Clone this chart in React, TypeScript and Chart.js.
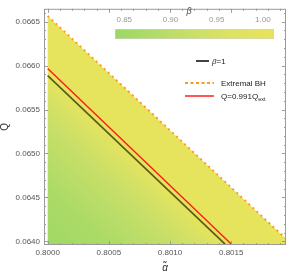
import React, { useEffect, useRef } from 'react';
import { Chart, registerables } from 'chart.js';
Chart.register(...registerables);

const alphaTicks = [0.8, 0.8005, 0.801, 0.8015];
const qTicks = [0.064, 0.0645, 0.065, 0.0655, 0.066, 0.0665];
const cbTicks = [0.85, 0.9, 0.95, 1.0];

const extremalAlpha = [0.8, 0.80194];
const extremalQ = [0.066565, 0.06404];
const beta1Alpha = [0.8, 0.80145];
const beta1Q = [0.065887, 0.06397];
const q991Alpha = [0.8, 0.8015];
const q991Q = [0.065967, 0.06397];

const fieldAlphaRange = [0.8, 0.80194];
const fieldQMin = 0.06397;

// beta values versus vertical distance below the beta=1 line
const betaOffsets = [0, 0.0002, 0.0005, 0.0009, 0.0013, 0.0019];
const betaLevels = [1.0, 0.955, 0.925, 0.895, 0.87, 0.85];

const cmapBeta = [0.84, 0.88, 0.92, 0.96, 1.012];
const cmapColors = ['#9cd864', '#b0db68', '#c7df68', '#dbe262', '#e8e45a'];
const cbRange = [0.84, 1.012];

const FONT = '"Liberation Sans", Arial, sans-serif';

function hexToRgb(h: string) {
  const n = parseInt(h.slice(1), 16);
  return [(n >> 16) & 255, (n >> 8) & 255, n & 255];
}
function betaColor(b: number) {
  if (b <= cmapBeta[0]) return cmapColors[0];
  for (let i = 0; i < cmapBeta.length - 1; i++) {
    if (b <= cmapBeta[i + 1]) {
      const t = (b - cmapBeta[i]) / (cmapBeta[i + 1] - cmapBeta[i]);
      const a = hexToRgb(cmapColors[i]);
      const c = hexToRgb(cmapColors[i + 1]);
      const r = a.map((v, k) => Math.round(v + (c[k] - v) * t));
      return `rgb(${r[0]},${r[1]},${r[2]})`;
    }
  }
  return cmapColors[cmapColors.length - 1];
}
function lineAt(xs: number[], ys: number[], a: number) {
  return ys[0] + ((ys[1] - ys[0]) * (a - xs[0])) / (xs[1] - xs[0]);
}

const fieldPlugin = {
  id: 'field',
  beforeDatasetsDraw(chart: any) {
    const { ctx, chartArea, scales } = chart;
    const x = scales.x, y = scales.y;
    ctx.save();
    ctx.beginPath();
    ctx.rect(chartArea.left, chartArea.top, chartArea.width, chartArea.height);
    ctx.clip();
    const xl = x.getPixelForValue(fieldAlphaRange[0]);
    const xr = x.getPixelForValue(fieldAlphaRange[1]);
    const yb = y.getPixelForValue(fieldQMin);
    ctx.beginPath();
    ctx.moveTo(xl, y.getPixelForValue(lineAt(extremalAlpha, extremalQ, fieldAlphaRange[0])));
    ctx.lineTo(xr, y.getPixelForValue(lineAt(extremalAlpha, extremalQ, fieldAlphaRange[1])));
    ctx.lineTo(xr, yb);
    ctx.lineTo(xl, yb);
    ctx.closePath();
    const p0x = x.getPixelForValue(beta1Alpha[0]);
    const p0y = y.getPixelForValue(beta1Q[0]);
    const p1x = x.getPixelForValue(beta1Alpha[1]);
    const p1y = y.getPixelForValue(beta1Q[1]);
    const dx = p1x - p0x, dy = p1y - p0y;
    const len = Math.hypot(dx, dy);
    const nx = -dy / len, ny = dx / len;
    const maxOff = betaOffsets[betaOffsets.length - 1];
    const vPix = y.getPixelForValue(beta1Q[0] - maxOff) - p0y;
    const perp = (vPix * Math.abs(dx)) / len;
    const g = ctx.createLinearGradient(p0x, p0y, p0x + nx * perp, p0y + ny * perp);
    betaOffsets.forEach((o, i) => g.addColorStop(o / maxOff, betaColor(betaLevels[i])));
    ctx.fillStyle = g;
    ctx.fill();
    ctx.restore();
  },
};

const framePlugin = {
  id: 'frame',
  afterDatasetsDraw(chart: any) {
    const { ctx, chartArea, scales } = chart;
    const x = scales.x, y = scales.y;
    const { left, right, top, bottom } = chartArea;
    ctx.save();
    ctx.strokeStyle = '#9a9a9a';
    ctx.lineWidth = 1;
    ctx.strokeRect(left + 0.5, top + 0.5, right - left - 1, bottom - top - 1);
    const step = 0.0001;
    for (let k = Math.ceil(x.min / step); k * step <= x.max + 1e-12; k++) {
      const v = k * step;
      const major = alphaTicks.some((t) => Math.abs(t - v) < 1e-9);
      const L = major ? 4 : 2;
      const px = Math.round(x.getPixelForValue(v)) + 0.5;
      ctx.beginPath();
      ctx.moveTo(px, bottom);
      ctx.lineTo(px, bottom - L);
      ctx.moveTo(px, top);
      ctx.lineTo(px, top + L);
      ctx.stroke();
    }
    for (let k = Math.ceil(y.min / step); k * step <= y.max + 1e-12; k++) {
      const v = k * step;
      const major = qTicks.some((t) => Math.abs(t - v) < 1e-9);
      const L = major ? 4 : 2;
      const py = Math.round(y.getPixelForValue(v)) + 0.5;
      ctx.beginPath();
      ctx.moveTo(left, py);
      ctx.lineTo(left + L, py);
      ctx.moveTo(right, py);
      ctx.lineTo(right - L, py);
      ctx.stroke();
    }
    ctx.restore();
  },
};

const overlayPlugin = {
  id: 'overlay',
  afterDraw(chart: any) {
    const { ctx } = chart;
    ctx.save();
    const x0 = 115, x1 = 274, y0 = 29, h = 10;
    const g = ctx.createLinearGradient(x0, 0, x1, 0);
    cmapBeta.forEach((b, i) =>
      g.addColorStop((b - cbRange[0]) / (cbRange[1] - cbRange[0]), cmapColors[i])
    );
    ctx.fillStyle = g;
    ctx.fillRect(x0, y0, x1 - x0, h);
    ctx.strokeStyle = '#d0d0d0';
    ctx.lineWidth = 0.6;
    ctx.strokeRect(x0 + 0.5, y0 + 0.5, x1 - x0 - 1, h - 1);
    ctx.fillStyle = '#999';
    ctx.font = `8px ${FONT}`;
    ctx.textAlign = 'center';
    ctx.textBaseline = 'middle';
    cbTicks.forEach((t) => {
      const px = x0 + ((t - cbRange[0]) / (cbRange[1] - cbRange[0])) * (x1 - x0);
      ctx.fillText(t.toFixed(2), px, 20);
    });
    ctx.fillStyle = '#555';
    ctx.font = `italic 9px ${FONT}`;
    ctx.fillText('β', 189, 11);

    ctx.textAlign = 'left';
    ctx.lineWidth = 1.6;
    ctx.strokeStyle = '#111';
    ctx.beginPath();
    ctx.moveTo(196, 61);
    ctx.lineTo(209, 61);
    ctx.stroke();
    ctx.fillStyle = '#222';
    ctx.font = `italic 8px ${FONT}`;
    ctx.fillText('β', 212, 62);
    const bw = ctx.measureText('β').width;
    ctx.font = `8px ${FONT}`;
    ctx.fillText('=1', 212 + bw, 62);

    ctx.strokeStyle = '#ff9a1a';
    ctx.lineWidth = 1.8;
    ctx.setLineDash([3, 2.5]);
    ctx.beginPath();
    ctx.moveTo(185, 83);
    ctx.lineTo(214, 83);
    ctx.stroke();
    ctx.setLineDash([]);
    ctx.fillText('Extremal BH', 221, 83.5);

    ctx.strokeStyle = '#ff2020';
    ctx.lineWidth = 1.5;
    ctx.beginPath();
    ctx.moveTo(185, 96);
    ctx.lineTo(214, 96);
    ctx.stroke();
    const mainTxt = 'Q=0.991Q';
    ctx.fillText(mainTxt, 221, 96.5);
    const mw = ctx.measureText(mainTxt).width;
    ctx.font = `5.5px ${FONT}`;
    ctx.fillText('ext', 221 + mw, 99);
    ctx.restore();
  },
};

export default function App() {
  const ref = useRef<HTMLCanvasElement | null>(null);
  useEffect(() => {
    if (!ref.current) return;
    const mk = (xs: number[], ys: number[]) => xs.map((v, i) => ({ x: v, y: ys[i] }));
    const chart = new Chart(ref.current, {
      type: 'scatter',
      data: {
        datasets: [
          {
            label: 'β=1',
            data: mk(beta1Alpha, beta1Q),
            showLine: true,
            borderColor: 'rgba(25,25,0,0.68)',
            borderWidth: 1.7,
            pointRadius: 0,
          },
          {
            label: 'Q=0.991Qext',
            data: mk(q991Alpha, q991Q),
            showLine: true,
            borderColor: '#ff1a1a',
            borderWidth: 1.4,
            pointRadius: 0,
          },
          {
            label: 'Extremal BH',
            data: mk(extremalAlpha, extremalQ),
            showLine: true,
            borderColor: '#ff9a1a',
            borderWidth: 2,
            borderDash: [2, 3.5],
            pointRadius: 0,
          },
        ],
      },
      plugins: [fieldPlugin, framePlugin, overlayPlugin],
      options: {
        responsive: false,
        animation: false,
        devicePixelRatio: 1,
        layout: { padding: { left: 0, right: 3, top: 1, bottom: 0 } },
        plugins: { legend: { display: false }, tooltip: { enabled: false } },
        scales: {
          x: {
            type: 'linear',
            min: 0.79997,
            max: 0.801948,
            afterBuildTicks: (s: any) => {
              s.ticks = alphaTicks.map((v) => ({ value: v }));
            },
            afterFit: (s: any) => {
              s.height = 29;
            },
            grid: { display: false, drawTicks: false },
            border: { display: false },
            ticks: {
              padding: 3,
              color: '#555',
              font: { family: FONT, size: 8 },
              callback: (v: any) => Number(v).toFixed(4),
              maxRotation: 0,
            },
            title: {
              display: true,
              text: 'α̃',
              color: '#333',
              font: { family: FONT, size: 10, style: 'italic' },
              padding: { top: 0, bottom: 0 },
            },
          },
          y: {
            type: 'linear',
            min: 0.063959,
            max: 0.066646,
            afterBuildTicks: (s: any) => {
              s.ticks = qTicks.map((v) => ({ value: v }));
            },
            afterFit: (s: any) => {
              s.width = 44;
            },
            grid: { display: false, drawTicks: false },
            border: { display: false },
            ticks: {
              padding: 4,
              color: '#555',
              font: { family: FONT, size: 8 },
              callback: (v: any) => Number(v).toFixed(4),
            },
            title: {
              display: true,
              text: 'Q',
              color: '#333',
              font: { family: FONT, size: 10 },
              padding: { top: -1, bottom: 0 },
            },
          },
        },
      },
    });
    return () => chart.destroy();
  }, []);
  return (
    <div style={{ position: 'fixed', left: 0, top: 0, width: 289, height: 274, background: '#fff' }}>
      <canvas ref={ref} width={289} height={274} />
    </div>
  );
}
